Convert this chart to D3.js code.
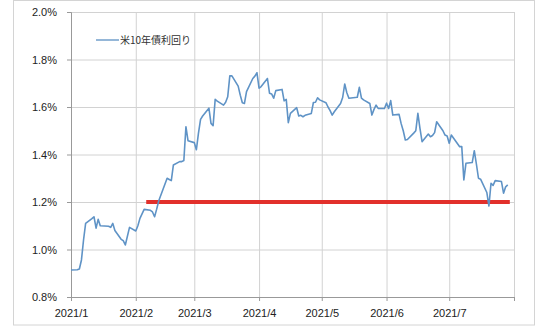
<!DOCTYPE html>
<html>
<head>
<meta charset="utf-8">
<script src="https://cdn.jsdelivr.net/npm/d3@7"></script>
<style>
  body { margin: 0; background: #fff; }
  svg { display: block; font-family: "Liberation Sans", Arial, sans-serif; }
  .gridlines line { stroke: #d2d2d2; stroke-width: 1px; }
  .gridlines path { display: none; }
  .axis path, .axis line { stroke: #999; }
  .axis text { fill: #222; font-size: 11px; }
</style>
</head>
<body>
<svg id="svgMain" width="540" height="326"></svg>
<script>
// data
const seriesName = "米10年債利回り";
const dates = [
  "2021-01-01","2021-01-04","2021-01-05","2021-01-06","2021-01-07","2021-01-08",
  "2021-01-11","2021-01-12","2021-01-13","2021-01-14","2021-01-15","2021-01-19",
  "2021-01-20","2021-01-21","2021-01-22","2021-01-25","2021-01-26","2021-01-27",
  "2021-01-29","2021-02-01","2021-02-02","2021-02-03","2021-02-04","2021-02-05",
  "2021-02-08","2021-02-09","2021-02-10","2021-02-11","2021-02-12","2021-02-16",
  "2021-02-17","2021-02-18","2021-02-19","2021-02-22","2021-02-23","2021-02-24",
  "2021-02-25","2021-02-26","2021-03-01","2021-03-02","2021-03-03","2021-03-04",
  "2021-03-05","2021-03-08","2021-03-09","2021-03-10","2021-03-11","2021-03-12",
  "2021-03-15","2021-03-16","2021-03-17","2021-03-18","2021-03-19","2021-03-22",
  "2021-03-23","2021-03-24","2021-03-25","2021-03-26","2021-03-29","2021-03-30",
  "2021-03-31","2021-04-01","2021-04-02","2021-04-05","2021-04-06","2021-04-07",
  "2021-04-08","2021-04-09","2021-04-12","2021-04-13","2021-04-14","2021-04-15",
  "2021-04-16","2021-04-19","2021-04-20","2021-04-21","2021-04-22","2021-04-23",
  "2021-04-26","2021-04-27","2021-04-28","2021-04-29","2021-04-30","2021-05-03",
  "2021-05-04","2021-05-05","2021-05-06","2021-05-07","2021-05-10","2021-05-11",
  "2021-05-12","2021-05-13","2021-05-14","2021-05-17","2021-05-18","2021-05-19",
  "2021-05-20","2021-05-21","2021-05-24","2021-05-25","2021-05-26","2021-05-27",
  "2021-05-28","2021-05-31","2021-06-01","2021-06-02","2021-06-03","2021-06-04",
  "2021-06-07","2021-06-08","2021-06-09","2021-06-10","2021-06-11","2021-06-14",
  "2021-06-15","2021-06-16","2021-06-17","2021-06-18","2021-06-21","2021-06-22",
  "2021-06-23","2021-06-24","2021-06-25","2021-06-28","2021-06-29","2021-06-30",
  "2021-07-01","2021-07-02","2021-07-06","2021-07-07","2021-07-08","2021-07-09",
  "2021-07-12","2021-07-13","2021-07-14","2021-07-15","2021-07-16","2021-07-19",
  "2021-07-20","2021-07-21","2021-07-22","2021-07-23","2021-07-26","2021-07-27",
  "2021-07-28","2021-07-29"
];
const yields = [
  0.914,0.915,0.918,0.956,1.040,1.110,
  1.130,1.138,1.090,1.127,1.100,1.098,
  1.093,1.110,1.080,1.043,1.037,1.019,
  1.093,1.078,1.100,1.131,1.150,1.169,
  1.165,1.158,1.138,1.170,1.205,1.300,
  1.295,1.290,1.356,1.370,1.370,1.375,
  1.517,1.458,1.450,1.420,1.490,1.548,
  1.562,1.595,1.531,1.521,1.632,1.625,
  1.608,1.620,1.643,1.731,1.731,1.688,
  1.650,1.618,1.615,1.665,1.720,1.730,
  1.744,1.679,1.686,1.720,1.658,1.655,
  1.637,1.669,1.674,1.626,1.632,1.534,
  1.573,1.597,1.562,1.565,1.559,1.565,
  1.573,1.619,1.620,1.639,1.630,1.618,
  1.600,1.585,1.566,1.580,1.615,1.640,
  1.697,1.660,1.637,1.640,1.641,1.683,
  1.637,1.630,1.615,1.566,1.590,1.608,
  1.594,1.594,1.616,1.594,1.627,1.566,
  1.569,1.530,1.500,1.461,1.463,1.490,
  1.500,1.573,1.510,1.454,1.486,1.475,
  1.480,1.492,1.538,1.500,1.482,1.478,
  1.447,1.482,1.433,1.433,1.293,1.363,
  1.366,1.416,1.360,1.300,1.296,1.240,
  1.183,1.279,1.270,1.290,1.286,1.237,
  1.264,1.272
];
const yTicks = [0.8, 1.0, 1.2, 1.4, 1.6, 1.8, 2.0];
const xTicks = ["2021-01-01","2021-02-01","2021-03-01","2021-04-01","2021-05-01","2021-06-01","2021-07-01","2021-08-01"];
const xTickLabels = ["2021/1","2021/2","2021/3","2021/4","2021/5","2021/6","2021/7",""];
const refLevel = 1.2;
const refStart = "2021-02-06";
const refEnd = "2021-07-30";

let svgMain = d3.select("#svgMain");
let svgMainWidth = +svgMain.attr("width");
let svgMainHeight = +svgMain.attr("height");
var svgMainMargin = { top: 12, right: 26, bottom: 29, left: 71 };
var plotWidth = svgMainWidth - svgMainMargin.left - svgMainMargin.right;
var plotHeight = svgMainHeight - svgMainMargin.top - svgMainMargin.bottom;

const parseDate = d3.timeParse("%Y-%m-%d");
const data = dates.map((d, i) => ({ date: parseDate(d), value: yields[i] }));

//outer frame
svgMain.append("rect")
    .attr("x", 13.5).attr("y", 0.5)
    .attr("width", 521).attr("height", 324.5)
    .attr("fill", "none")
    .attr("stroke", "#d4d4d4");

//Scales
const xScale = d3.scaleTime()
    .domain([parseDate(xTicks[0]), parseDate(xTicks[xTicks.length - 1])])
    .range([0, plotWidth]);

const yScale = d3.scaleLinear()
    .domain([0.8, 2.0])
    .range([plotHeight, 0]);

const plot = svgMain.append("g")
    .attr("transform", "translate(" + svgMainMargin.left + "," + svgMainMargin.top + ")");

//Gridlines
let xGridlines = d3.axisBottom(xScale).tickValues(xTicks.map(parseDate)).tickSize(-plotHeight).tickFormat("");
plot.append("g")
    .attr("class", "x gridlines")
    .attr("transform", "translate(0," + plotHeight + ")")
    .call(xGridlines);

let yGridlines = d3.axisLeft(yScale).tickValues(yTicks).tickSize(-plotWidth).tickFormat("");
plot.append("g")
    .attr("class", "y gridlines")
    .call(yGridlines);

//Axis
let xAxis = d3.axisBottom(xScale)
    .tickValues(xTicks.map(parseDate))
    .tickSize(4)
    .tickFormat((d, i) => xTickLabels[i]);
plot.append("g")
    .attr("class", "x axis")
    .attr("transform", "translate(0," + plotHeight + ")")
    .call(xAxis)
    .selectAll("text").attr("dy", "1.15em");

let yAxis = d3.axisLeft(yScale)
    .tickValues(yTicks)
    .tickSize(4)
    .tickPadding(10)
    .tickFormat(d => d3.format(".1f")(d) + "%");
plot.append("g")
    .attr("class", "y axis")
    .call(yAxis);

//reference line
plot.append("line")
    .attr("x1", xScale(parseDate(refStart)))
    .attr("x2", xScale(parseDate(refEnd)))
    .attr("y1", yScale(refLevel))
    .attr("y2", yScale(refLevel))
    .attr("stroke", "#e2302b")
    .attr("stroke-width", 4);

//yield line
var line = d3.line()
    .x(d => xScale(d.date))
    .y(d => yScale(d.value));

plot.append("path")
    .datum(data)
    .attr("fill", "none")
    .attr("stroke", "#5f93c6")
    .attr("stroke-width", 1.6)
    .attr("stroke-linejoin", "round")
    .attr("d", line);

//Legend
svgMain.append("line")
    .attr("x1", 96).attr("x2", 119)
    .attr("y1", 40).attr("y2", 40)
    .attr("stroke", "#7aa5cf")
    .attr("stroke-width", 1.6);

svgMain.append("text")
    .attr("x", 120)
    .attr("y", 43.5)
    .attr("font-size", "10px")
    .attr("font-family", "'Noto Sans CJK JP', sans-serif")
    .attr("fill", "#333")
    .text(seriesName);
</script>
</body>
</html>
